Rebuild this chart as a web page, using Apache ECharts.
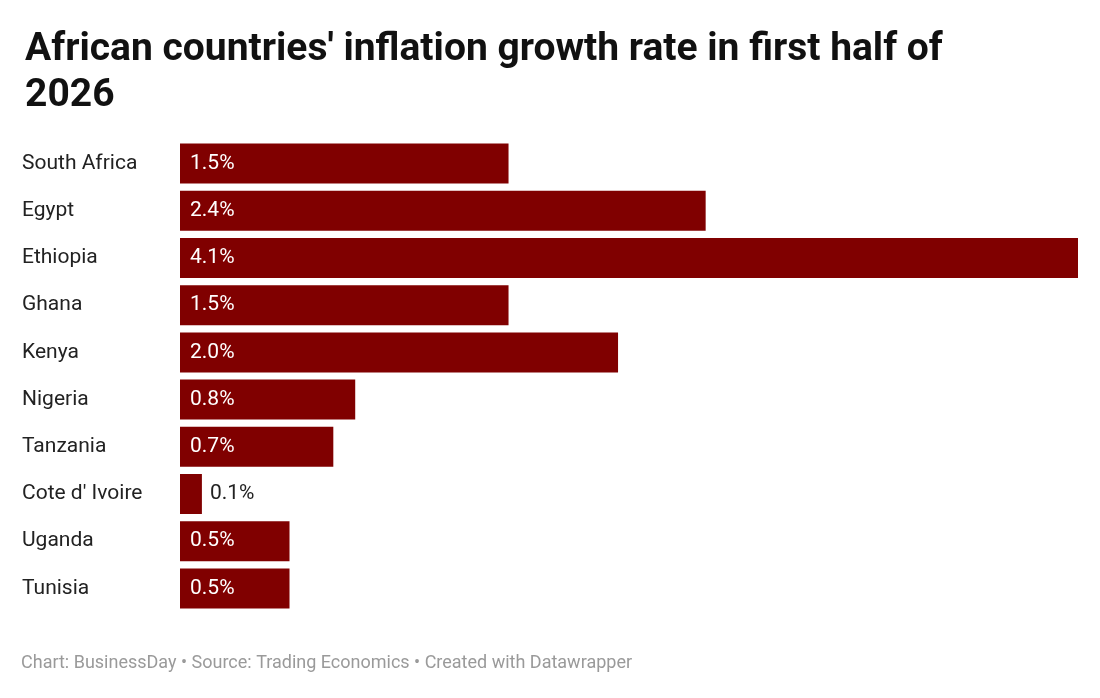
<!DOCTYPE html>
<html>
<head>
<meta charset="utf-8">
<script src="https://cdn.jsdelivr.net/npm/echarts@6/dist/echarts.min.js"></script>
<style>
  html, body { margin: 0; padding: 0; background: #fff; }
  #chart { width: 1100px; height: 698px; }
</style>
</head>
<body>
<div id="chart"></div>
<script>
const countries = ['South Africa', 'Egypt', 'Ethiopia', 'Ghana', 'Kenya', 'Nigeria', 'Tanzania', "Cote d' Ivoire", 'Uganda', 'Tunisia'];
const inflation = [1.5, 2.4, 4.1, 1.5, 2.0, 0.8, 0.7, 0.1, 0.5, 0.5];

const chart = echarts.init(document.getElementById('chart'));

// small bars don't fit the label, put it outside in dark text
const barData = inflation.map(v => v < 0.3
  ? { value: v, label: { position: 'right', color: '#222', distance: 8 } }
  : v);

chart.setOption({
  animation: false,
  title: {
    text: "African countries' inflation growth rate in first half of\n2026",
    left: 20, top: 22,
    textStyle: { fontFamily: 'Roboto', fontWeight: 'bold', fontSize: 39, lineHeight: 46, color: '#111' }
  },
  graphic: [{
    type: 'text', left: 21, top: 654,
    style: {
      text: 'Chart: BusinessDay • Source: Trading Economics • Created with Datawrapper',
      fontFamily: 'Roboto', fontSize: 18, fill: '#9a9a9a'
    }
  }],
  grid: { left: 180, right: 22, top: 140, bottom: 86 },
  xAxis: { type: 'value', min: 0, max: 4.1, show: false },
  yAxis: {
    type: 'category', data: countries, inverse: true,
    axisLine: { show: false }, axisTick: { show: false },
    axisLabel: { align: 'left', margin: 158, fontFamily: 'Roboto', fontSize: 21, color: '#222' }
  },
  series: [{
    type: 'bar', data: barData, barWidth: 40,
    itemStyle: { color: '#800000' },
    label: {
      show: true, position: 'insideLeft', distance: 10,
      fontFamily: 'Roboto', fontSize: 21, color: '#fff',
      formatter: p => p.value.toFixed(1) + '%'
    }
  }]
});
</script>
</body>
</html>
